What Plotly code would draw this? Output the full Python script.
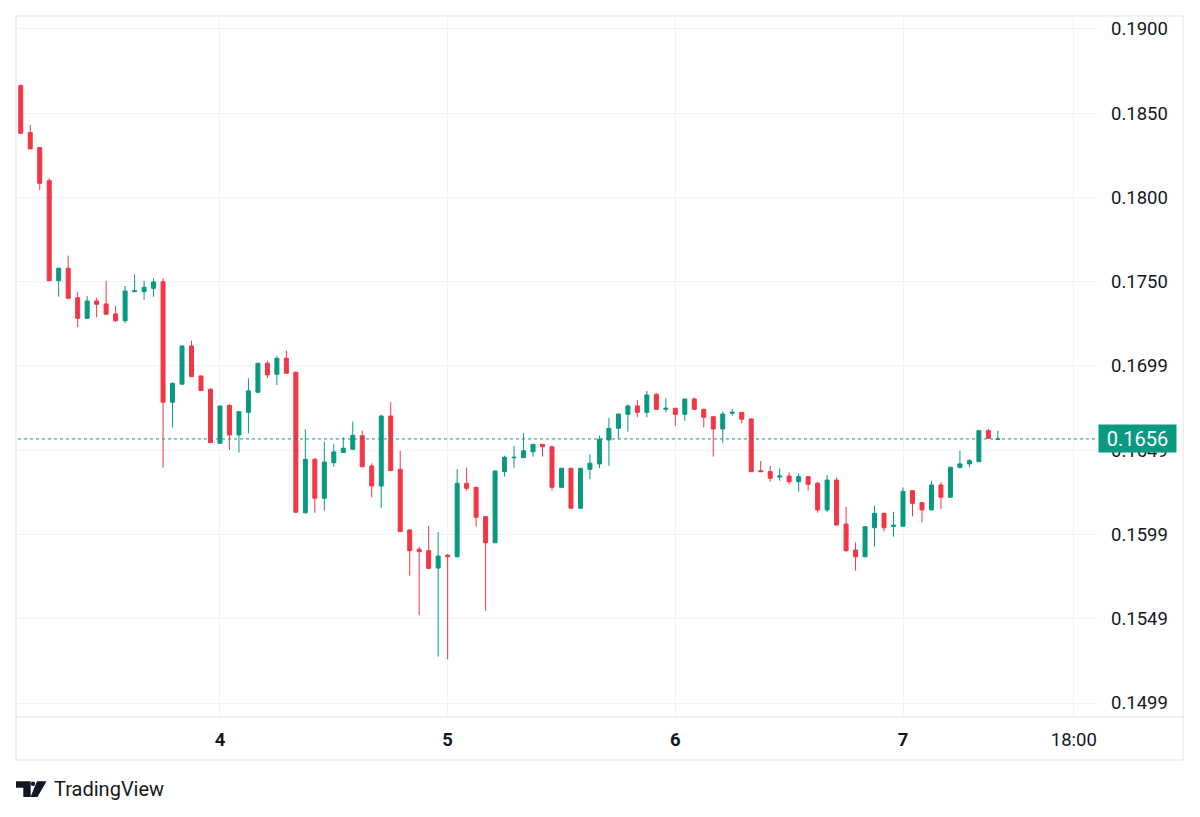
import plotly.graph_objects as go
import pandas as pd

# ---------------- data (hourly candles) ----------------
start_time = "2024-12-03 03:00"

open_ = [0.18659, 0.18380, 0.18291, 0.18095, 0.17501, 0.17575, 0.17400, 0.17278, 0.17381, 0.17363,
         0.17304, 0.17264, 0.17436, 0.17436, 0.17456, 0.17495, 0.16780, 0.16887, 0.17114, 0.16936,
         0.16857, 0.16536, 0.16760, 0.16586, 0.16720, 0.16839, 0.17011, 0.16946, 0.17041, 0.16958,
         0.16124, 0.16441, 0.16210, 0.16421, 0.16481, 0.16501, 0.16581, 0.16402, 0.16283, 0.16698,
         0.16382, 0.16022, 0.15907, 0.15899, 0.15796, 0.15872, 0.15863, 0.16299, 0.16275, 0.16101,
         0.15946, 0.16368, 0.16450, 0.16451, 0.16486, 0.16530, 0.16516, 0.16275, 0.16388, 0.16151,
         0.16382, 0.16414, 0.16556, 0.16625, 0.16708, 0.16758, 0.16720, 0.16827, 0.16738, 0.16744,
         0.16708, 0.16799, 0.16738, 0.16694, 0.16621, 0.16714, 0.16720, 0.16681, 0.16374, 0.16368,
         0.16336, 0.16342, 0.16308, 0.16338, 0.16299, 0.16141, 0.16318, 0.16057, 0.15903, 0.15863,
         0.16035, 0.16121, 0.16043, 0.16044, 0.16255, 0.16184, 0.16141, 0.16289, 0.16216, 0.16392,
         0.16414, 0.16427, 0.16611, 0.16560]

high = [0.18665, 0.18425, 0.18295, 0.18109, 0.17578, 0.17650, 0.17436, 0.17411, 0.17400, 0.17501,
        0.17351, 0.17470, 0.17539, 0.17501, 0.17516, 0.17516, 0.16898, 0.17114, 0.17145, 0.16938,
        0.16863, 0.16758, 0.16768, 0.16724, 0.16922, 0.17011, 0.17027, 0.17054, 0.17086, 0.16960,
        0.16619, 0.16449, 0.16546, 0.16532, 0.16572, 0.16665, 0.16611, 0.16418, 0.16706, 0.16780,
        0.16492, 0.16025, 0.15923, 0.16047, 0.16010, 0.15878, 0.16382, 0.16392, 0.16277, 0.16103,
        0.16372, 0.16463, 0.16522, 0.16596, 0.16530, 0.16532, 0.16518, 0.16388, 0.16390, 0.16390,
        0.16471, 0.16581, 0.16688, 0.16712, 0.16768, 0.16793, 0.16847, 0.16833, 0.16803, 0.16746,
        0.16801, 0.16809, 0.16740, 0.16696, 0.16724, 0.16740, 0.16722, 0.16683, 0.16431, 0.16402,
        0.16388, 0.16364, 0.16358, 0.16340, 0.16308, 0.16348, 0.16334, 0.16160, 0.15949, 0.16043,
        0.16166, 0.16123, 0.16130, 0.16274, 0.16257, 0.16186, 0.16313, 0.16305, 0.16396, 0.16492,
        0.16443, 0.16613, 0.16621, 0.16611]

low = [0.18376, 0.18283, 0.18040, 0.17501, 0.17406, 0.17395, 0.17225, 0.17276, 0.17284, 0.17300,
       0.17255, 0.17249, 0.17434, 0.17387, 0.17406, 0.16392, 0.16631, 0.16887, 0.16930, 0.16847,
       0.16538, 0.16532, 0.16497, 0.16481, 0.16596, 0.16833, 0.16922, 0.16882, 0.16950, 0.16125,
       0.16119, 0.16124, 0.16136, 0.16397, 0.16479, 0.16499, 0.16395, 0.16216, 0.16154, 0.16372,
       0.16010, 0.15751, 0.15517, 0.15792, 0.15270, 0.15254, 0.15860, 0.16255, 0.16041, 0.15541,
       0.15944, 0.16338, 0.16388, 0.16449, 0.16457, 0.16457, 0.16255, 0.16273, 0.16149, 0.16149,
       0.16323, 0.16388, 0.16402, 0.16560, 0.16605, 0.16691, 0.16691, 0.16736, 0.16720, 0.16639,
       0.16669, 0.16736, 0.16631, 0.16457, 0.16540, 0.16700, 0.16655, 0.16366, 0.16366, 0.16308,
       0.16314, 0.16293, 0.16249, 0.16255, 0.16124, 0.16130, 0.16049, 0.15893, 0.15780, 0.15861,
       0.15923, 0.16014, 0.15982, 0.16042, 0.16103, 0.16067, 0.16139, 0.16146, 0.16214, 0.16390,
       0.16394, 0.16425, 0.16564, 0.16560]

close = [0.18376, 0.18283, 0.18079, 0.17501, 0.17575, 0.17397, 0.17278, 0.17381, 0.17361, 0.17302,
         0.17264, 0.17440, 0.17442, 0.17462, 0.17494, 0.16780, 0.16892, 0.17114, 0.16932, 0.16849,
         0.16540, 0.16758, 0.16586, 0.16724, 0.16847, 0.17011, 0.16942, 0.17041, 0.16952, 0.16127,
         0.16441, 0.16210, 0.16425, 0.16485, 0.16507, 0.16584, 0.16397, 0.16283, 0.16698, 0.16374,
         0.16012, 0.15899, 0.15893, 0.15794, 0.15867, 0.15863, 0.16299, 0.16269, 0.16097, 0.15946,
         0.16372, 0.16453, 0.16453, 0.16492, 0.16530, 0.16516, 0.16275, 0.16388, 0.16151, 0.16388,
         0.16418, 0.16560, 0.16625, 0.16710, 0.16758, 0.16720, 0.16823, 0.16738, 0.16744, 0.16708,
         0.16799, 0.16738, 0.16691, 0.16621, 0.16710, 0.16720, 0.16679, 0.16368, 0.16368, 0.16329,
         0.16342, 0.16308, 0.16338, 0.16293, 0.16141, 0.16318, 0.16051, 0.15899, 0.15863, 0.16041,
         0.16121, 0.16035, 0.16050, 0.16251, 0.16180, 0.16141, 0.16289, 0.16216, 0.16394, 0.16414,
         0.16433, 0.16611, 0.16566, 0.16562]

price_ticks = [0.14995, 0.15495, 0.15995, 0.16495, 0.16995, 0.17495, 0.17995, 0.18495, 0.18995]
price_tick_labels = ["0.1499", "0.1549", "0.1599", "0.1649", "0.1699", "0.1750", "0.1800", "0.1850", "0.1900"]

time_ticks = ["2024-12-04 00:00", "2024-12-05 00:00", "2024-12-06 00:00", "2024-12-07 00:00", "2024-12-07 18:00"]
time_tick_labels = ["<b>4</b>", "<b>5</b>", "<b>6</b>", "<b>7</b>", "18:00"]

times = pd.date_range(start=start_time, periods=len(open_), freq="h")

# ---------------- styling ----------------
UP = "#089981"
DOWN = "#F23645"
TEXT = "#131722"
GRID = "#f0f3fa"
FRAME = "#e0e3eb"
FONT = "Roboto, 'Noto Sans', sans-serif"

W, H = 1200, 817
L, R, T, B = 18, 103, 17, 100
PW, PH = W - L - R, H - T - B


def px(x):
    return (x - L) / PW


def py(y):
    return (H - B - y) / PH


fig = go.Figure()
fig.add_trace(go.Candlestick(
    x=times, open=open_, high=high, low=low, close=close,
    increasing=dict(line=dict(color=UP, width=1), fillcolor=UP),
    decreasing=dict(line=dict(color=DOWN, width=1), fillcolor=DOWN),
    whiskerwidth=0,
    hoverinfo="skip",
    showlegend=False,
))

last_price = close[-1]

shapes = [
    # last price dotted line
    dict(type="line", xref="paper", yref="y", x0=0, x1=1, y0=last_price, y1=last_price,
         line=dict(color=UP, width=1, dash="dot"), layer="above"),
    # outer frame
    dict(type="rect", xref="paper", yref="paper", x0=px(16), x1=px(1183), y0=py(760), y1=py(16),
         line=dict(color=FRAME, width=1), layer="below"),
    # separator between pane and time scale
    dict(type="line", xref="paper", yref="paper", x0=px(16), x1=px(1183), y0=py(717), y1=py(717),
         line=dict(color=FRAME, width=1)),
    # TradingView logo
    dict(type="path", xref="paper", yref="paper",
         path=f"M {px(16)},{py(781.3)} L {px(30.7)},{py(781.3)} L {px(30.7)},{py(797)} "
              f"L {px(23.3)},{py(797)} L {px(23.3)},{py(787.7)} L {px(16)},{py(787.7)} Z",
         fillcolor=TEXT, line=dict(width=0)),
    dict(type="circle", xref="paper", yref="paper", x0=px(30.8), x1=px(35.2), y0=py(786), y1=py(781.5),
         fillcolor=TEXT, line=dict(width=0)),
    dict(type="path", xref="paper", yref="paper",
         path=f"M {px(37)},{py(781.3)} L {px(46.5)},{py(781.3)} L {px(37.5)},{py(797)} "
              f"L {px(30.5)},{py(797)} Z",
         fillcolor=TEXT, line=dict(width=0)),
]

annotations = [
    dict(xref="paper", yref="y", x=1, y=last_price, xanchor="left", yanchor="middle", xshift=1,
         text=f"{last_price:.4f}", showarrow=False, bgcolor=UP, borderpad=2,
         width=73, height=23, align="center",
         font=dict(family=FONT, size=20, color="white")),
    dict(xref="paper", yref="paper", x=px(52), y=py(789), xanchor="left", yanchor="middle",
         text="TradingView", showarrow=False, font=dict(family=FONT, size=20, color=TEXT)),
]

fig.update_layout(
    width=W, height=H,
    margin=dict(l=L, r=R, t=T, b=B),
    paper_bgcolor="white", plot_bgcolor="white",
    boxgap=0.4,
    shapes=shapes, annotations=annotations,
    xaxis=dict(
        type="date",
        range=["2024-12-03 02:42:36", "2024-12-07 20:27:00"],
        rangeslider=dict(visible=False),
        tickvals=time_ticks, ticktext=time_tick_labels,
        showgrid=True, gridcolor=GRID, gridwidth=1,
        showline=False, zeroline=False, ticks="",
        tickfont=dict(family=FONT, size=18.5, color=TEXT),
        ticklabelstandoff=9,
    ),
    yaxis=dict(
        side="right",
        range=[0.14912, 0.19066],
        tickvals=price_ticks, ticktext=price_tick_labels,
        showgrid=True, gridcolor=GRID, gridwidth=1,
        showline=False, zeroline=False, ticks="",
        tickfont=dict(family=FONT, size=18.5, color=TEXT),
        ticklabelstandoff=13,
    ),
    hovermode=False,
)

fig.write_html("out.html")
